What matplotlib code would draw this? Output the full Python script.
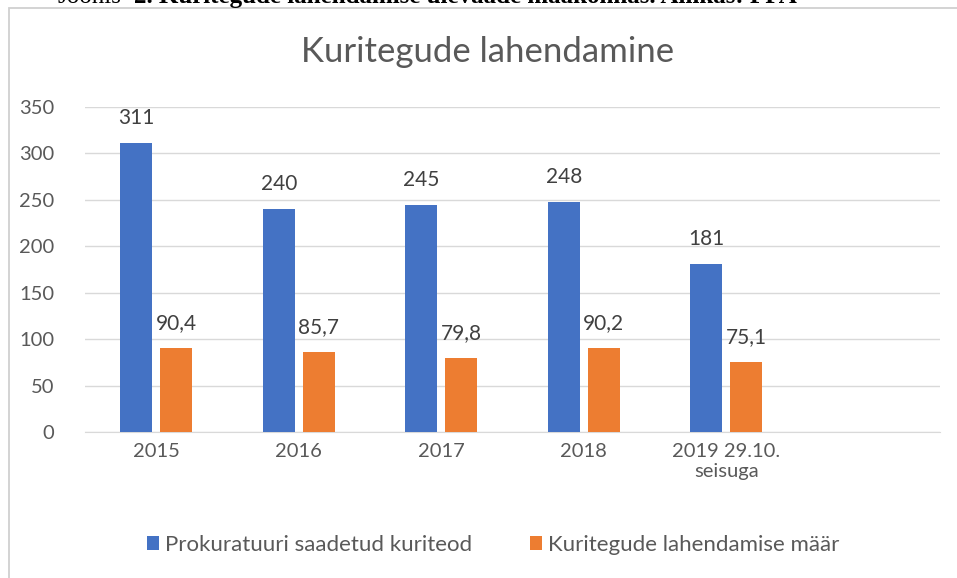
import matplotlib
matplotlib.use("Agg")
import matplotlib.pyplot as plt
from matplotlib.patches import Rectangle
import numpy as np

categories = ["2015", "2016", "2017", "2018", "2019 29.10.\nseisuga", ""]
saadetud = [311, 240, 245, 248, 181, None]
maar = [90.4, 85.7, 79.8, 90.2, 75.1, None]
labels_saadetud = ["311", "240", "245", "248", "181"]
labels_maar = ["90,4", "85,7", "79,8", "90,2", "75,1"]
series_names = ["Prokuratuuri saadetud kuriteod", "Kuritegude lahendamise määr"]

plt.rcParams['font.family'] = ['Lato', 'DejaVu Sans']
TXT = "#595959"
BLUE = "#4472C4"
ORANGE = "#ED7D31"

fig = plt.figure(figsize=(9.57, 5.78), dpi=100)
W, H = 957, 578

# chart frame
fig.patches.append(Rectangle((9 / W, -0.1), 1.2, (H - 8) / H + 0.1,
                             transform=fig.transFigure, fill=False,
                             edgecolor="#D0D0D0", linewidth=1.3))
# caption clipped at top
fig.text(57 / W, 1 - 3 / H, "Joonis", family="Liberation Serif", fontsize=18,
         color="black", va="baseline", ha="left")
fig.text(134 / W, 1 - 3 / H, "2. Kuritegude lahendamise ülevaade maakonnas. Allikas: PPA",
         family="Liberation Serif", fontsize=18, color="black", va="baseline", ha="left",
         fontweight="bold")

ax = fig.add_axes([85 / W, 1 - 432 / H, (940 - 85) / W, (432 - 107) / H])
n = len(categories)
x = np.arange(n)
bw = 0.224
off = 0.14
idx = [i for i, v in enumerate(saadetud) if v is not None]
b1 = ax.bar([x[i] - off for i in idx], [saadetud[i] for i in idx], bw, color=BLUE,
            label=series_names[0], zorder=3)
b2 = ax.bar([x[i] + off for i in idx], [maar[i] for i in idx], bw, color=ORANGE,
            label=series_names[1], zorder=3)
for i, r in zip(idx, b1):
    ax.annotate(labels_saadetud[i], (r.get_x() + r.get_width() / 2, r.get_height()),
                xytext=(0, 15), textcoords="offset pixels",
                ha="center", va="bottom", fontsize=15, color="#404040")
for i, r in zip(idx, b2):
    ax.annotate(labels_maar[i], (r.get_x() + r.get_width() / 2, r.get_height()),
                xytext=(0, 15), textcoords="offset pixels",
                ha="center", va="bottom", fontsize=15, color="#404040")

ax.set_xlim(-0.5, n - 0.5)
ax.set_ylim(0, 350)
ax.set_yticks(np.arange(0, 351, 50))
ax.set_xticks(x)
ax.set_xticklabels(categories)
ax.grid(axis="y", color="#D9D9D9", linewidth=1, zorder=0)
for s in ["top", "right", "left"]:
    ax.spines[s].set_visible(False)
ax.spines["bottom"].set_color("#D9D9D9")
ax.tick_params(axis="both", length=0, labelsize=14.5, colors=TXT)
ax.tick_params(axis="y", pad=22)
ax.tick_params(axis="x", pad=8)

fig.text(488 / W, 1 - 52 / H, "Kuritegude lahendamine", ha="center", va="center",
         fontsize=25, color=TXT)

fig.legend(handles=[b1, b2], labels=series_names, loc="center",
           bbox_to_anchor=(493 / W, 1 - 545 / H), ncol=2, frameon=False,
           fontsize=16, labelcolor=TXT, handlelength=0.55, handleheight=0.55,
           handletextpad=0.25, columnspacing=2.6)

fig.savefig("out.png", dpi=100)
